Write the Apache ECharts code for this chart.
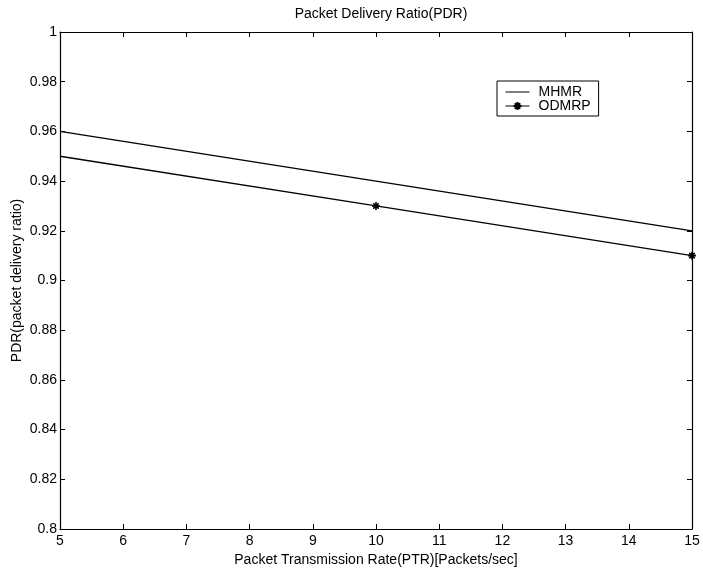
<!DOCTYPE html>
<html>
<head>
<meta charset="utf-8">
<script src="https://cdn.jsdelivr.net/npm/echarts@6/dist/echarts.min.js"></script>
<style>
  html, body { margin: 0; padding: 0; background: #fff; }
  #chart { width: 703px; height: 568px; }
</style>
</head>
<body>
<div id="chart"></div>
<script>
// Packet transmission rate (packets/sec) and delivery ratios per protocol
const ptr = [5, 10, 15];
const mhmr = [0.96, 0.94, 0.92];
const odmrp = [0.95, 0.93, 0.91];

const FONT = 'Liberation Sans, Arial, Helvetica, sans-serif';
// asterisk marker drawn as strokes
const STAR = 'path://M5,0L5,10M0,5L10,5M1.6,1.6L8.4,8.4M8.4,1.6L1.6,8.4';
// thin bar used as the legend key of the plain line
const BAR = 'path://M0,0H24V1H0Z';

const chart = echarts.init(document.getElementById('chart'), null, { renderer: 'canvas' });

const tickStyle = { show: true, inside: true, length: 5, lineStyle: { color: '#000', width: 1 } };
const axisLine = { show: true, onZero: false, lineStyle: { color: '#000', width: 1.2 } };
const labelStyle = { color: '#000', fontFamily: FONT, fontSize: 14 };

chart.setOption({
  animation: false,
  backgroundColor: '#fff',
  title: {
    text: 'Packet Delivery Ratio(PDR)',
    left: 376, top: 2, textAlign: 'center',
    textStyle: { fontFamily: FONT, fontSize: 14, fontWeight: 'normal', color: '#000' }
  },
  grid: { left: 60, right: 11, top: 32, bottom: 39, containLabel: false, outerBoundsMode: 'none' },
  legend: {
    left: 497, top: 81, orient: 'vertical',
    borderColor: '#000', borderWidth: 1,
    padding: [4, 8, 3, 8],
    itemWidth: 24, itemHeight: 10, itemGap: 0,
    lineStyle: { width: 1 },
    textStyle: { fontFamily: FONT, fontSize: 14, lineHeight: 14, color: '#000', padding: [0, 0, 0, 4] },
    data: [{ name: 'MHMR', icon: BAR }, { name: 'ODMRP' }]
  },
  xAxis: [{
    type: 'value', min: 5, max: 15, interval: 1,
    name: 'Packet Transmission Rate(PTR)[Packets/sec]',
    nameLocation: 'middle', nameGap: 19,
    nameTextStyle: { fontFamily: FONT, fontSize: 14, color: '#000' },
    axisLine, axisTick: tickStyle,
    axisLabel: Object.assign({ margin: 5 }, labelStyle),
    splitLine: { show: false }
  }, {
    type: 'value', min: 5, max: 15, interval: 1, position: 'top',
    axisLine, axisTick: tickStyle, axisLabel: { show: false }, splitLine: { show: false }
  }],
  yAxis: [{
    type: 'value', min: 0.8, max: 1, interval: 0.02,
    name: 'PDR(packet delivery ratio)',
    nameLocation: 'middle', nameGap: 36, nameMoveOverlap: false,
    nameTextStyle: { fontFamily: FONT, fontSize: 14, color: '#000' },
    axisLine, axisTick: tickStyle,
    axisLabel: Object.assign({ margin: 3, formatter: v => String(parseFloat(v.toFixed(2))) }, labelStyle),
    splitLine: { show: false }
  }, {
    type: 'value', min: 0.8, max: 1, interval: 0.02, position: 'right',
    axisLine, axisTick: tickStyle, axisLabel: { show: false }, splitLine: { show: false }
  }],
  series: [{
    name: 'MHMR', type: 'line',
    data: ptr.map((x, i) => [x, mhmr[i]]),
    symbol: 'none',
    lineStyle: { color: '#000', width: 1.3 },
    itemStyle: { color: '#000' }
  }, {
    name: 'ODMRP', type: 'line',
    data: ptr.map((x, i) => ({
      value: [x, odmrp[i]],
      symbol: i === 0 ? 'none' : STAR
    })),
    symbol: STAR, symbolSize: 8, showAllSymbol: true,
    lineStyle: { color: '#000', width: 1.3 },
    itemStyle: { color: '#000', borderColor: '#000', borderWidth: 1.6 }
  }]
});
</script>
</body>
</html>
